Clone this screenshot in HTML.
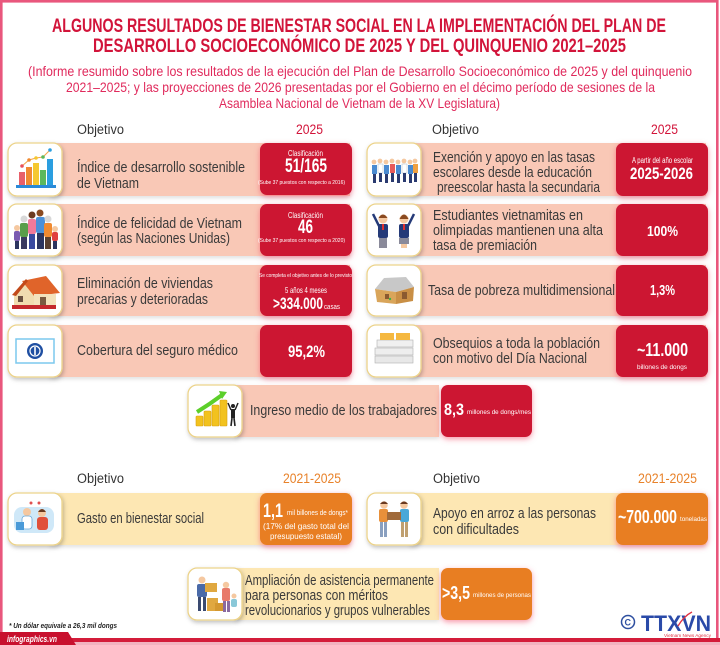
<!DOCTYPE html>
<html><head><meta charset="utf-8">
<style>
html,body{margin:0;padding:0;background:#fff;}
svg{display:block;}
text{font-family:"Liberation Sans",sans-serif;}
.t{font-size:15px;fill:#3a3a3a;}
.w{fill:#fff;}
.b{font-weight:bold;}
</style></head>
<body>
<svg width="720" height="645" viewBox="0 0 720 645" xmlns="http://www.w3.org/2000/svg">
<defs>
<filter id="glow" x="-20%" y="-30%" width="140%" height="160%">
<feDropShadow dx="0" dy="2" stdDeviation="3" flood-color="#f0405f" flood-opacity="0.55"/>
</filter>
<filter id="ish" x="-20%" y="-20%" width="140%" height="150%">
<feDropShadow dx="1" dy="2" stdDeviation="2" flood-color="#000" flood-opacity="0.25"/>
</filter>
<filter id="bsh" x="-5%" y="-20%" width="110%" height="150%">
<feDropShadow dx="0" dy="2" stdDeviation="2" flood-color="#000" flood-opacity="0.12"/>
</filter>
</defs>
<rect width="720" height="645" fill="#fff"/>
<!-- border -->
<rect x="1.3" y="1.3" width="716" height="640" fill="none" stroke="#e9577d" stroke-width="2.6"/>
<rect x="0" y="638" width="720" height="4" fill="#d41c3a"/>
<rect x="0" y="642" width="720" height="3" fill="#f2b3c0"/>
<polygon points="0,632 68,632 76,645 0,645" fill="#c8102e"/>
<text x="7" y="642" font-size="9" font-style="italic" font-weight="bold" fill="#fff" textLength="50" lengthAdjust="spacingAndGlyphs">infographics.vn</text>

<!-- title -->
<text x="52" y="32" font-size="19.5" font-weight="bold" fill="#d2143a" textLength="614" lengthAdjust="spacingAndGlyphs">ALGUNOS RESULTADOS DE BIENESTAR SOCIAL EN LA IMPLEMENTACIÓN DEL PLAN DE</text>
<text x="93" y="52" font-size="19.5" font-weight="bold" fill="#d2143a" textLength="533" lengthAdjust="spacingAndGlyphs">DESARROLLO SOCIOECONÓMICO DE 2025 Y DEL QUINQUENIO 2021–2025</text>
<text x="28" y="76" font-size="14" fill="#e02a5c" textLength="664" lengthAdjust="spacingAndGlyphs">(Informe resumido sobre los resultados de la ejecución del Plan de Desarrollo Socioeconómico de 2025 y del quinquenio</text>
<text x="66" y="92" font-size="14" fill="#e02a5c" textLength="589" lengthAdjust="spacingAndGlyphs">2021–2025; y las proyecciones de 2026 presentadas por el Gobierno en el décimo período de sesiones de la</text>
<text x="219" y="108" font-size="14" fill="#e02a5c" textLength="281" lengthAdjust="spacingAndGlyphs">Asamblea Nacional de Vietnam de la XV Legislatura)</text>

<!-- headers -->
<text x="77" y="134" font-size="13.5" fill="#333" textLength="47" lengthAdjust="spacingAndGlyphs">Objetivo</text>
<text x="296" y="134" font-size="13.5" fill="#d2143a" textLength="27" lengthAdjust="spacingAndGlyphs">2025</text>
<text x="432" y="134" font-size="13.5" fill="#333" textLength="47" lengthAdjust="spacingAndGlyphs">Objetivo</text>
<text x="651" y="134" font-size="13.5" fill="#d2143a" textLength="27" lengthAdjust="spacingAndGlyphs">2025</text>

<!-- bars left -->
<g filter="url(#bsh)">
<rect x="50" y="143" width="300" height="53" fill="#f9c8b6"/>
<rect x="50" y="204" width="300" height="52" fill="#f9c8b6"/>
<rect x="50" y="265" width="300" height="51" fill="#f9c8b6"/>
<rect x="50" y="325" width="300" height="52" fill="#f9c8b6"/>
<rect x="235" y="385" width="204" height="52" fill="#f9c8b6"/>
<rect x="410" y="143" width="296" height="53" fill="#f9c8b6"/>
<rect x="410" y="204" width="296" height="52" fill="#f9c8b6"/>
<rect x="410" y="265" width="296" height="51" fill="#f9c8b6"/>
<rect x="410" y="325" width="296" height="52" fill="#f9c8b6"/>
<rect x="50" y="493" width="300" height="52" fill="#fde7b3"/>
<rect x="410" y="493" width="296" height="52" fill="#fde7b3"/>
<rect x="235" y="568" width="204" height="52" fill="#fde7b3"/>
</g>

<!-- red boxes -->
<g filter="url(#glow)" fill="#cc1431">
<rect x="260" y="143" width="92" height="52" rx="7"/>
<rect x="260" y="204" width="92" height="52" rx="7"/>
<rect x="260" y="265" width="92" height="51" rx="7"/>
<rect x="260" y="325" width="92" height="52" rx="7"/>
<rect x="441" y="385" width="91" height="52" rx="7"/>
<rect x="616" y="143" width="92" height="53" rx="7"/>
<rect x="616" y="204" width="92" height="52" rx="7"/>
<rect x="616" y="265" width="92" height="51" rx="7"/>
<rect x="616" y="325" width="92" height="52" rx="7"/>
</g>
<g filter="url(#glow)" fill="#e87e22">
<rect x="260" y="493" width="92" height="52" rx="7"/>
<rect x="616" y="493" width="92" height="52" rx="7"/>
<rect x="441" y="568" width="91" height="52" rx="7"/>
</g>

<!-- icon boxes -->
<g filter="url(#ish)" fill="#fff" stroke="#ecd38a" stroke-width="1.3">
<rect x="8" y="143" width="54" height="53" rx="9"/>
<rect x="8" y="204" width="54" height="52" rx="9"/>
<rect x="8" y="265" width="54" height="51" rx="9"/>
<rect x="8" y="325" width="54" height="52" rx="9"/>
<rect x="188" y="385" width="54" height="52" rx="9"/>
<rect x="367" y="143" width="54" height="53" rx="9"/>
<rect x="367" y="204" width="54" height="52" rx="9"/>
<rect x="367" y="265" width="54" height="51" rx="9"/>
<rect x="367" y="325" width="54" height="52" rx="9"/>
<rect x="8" y="493" width="54" height="52" rx="9"/>
<rect x="367" y="493" width="54" height="52" rx="9"/>
<rect x="188" y="568" width="54" height="52" rx="9"/>
</g>

<!-- icon 1: bar chart -->
<polyline points="22,166 29,160 36,158 43,157 50,150" fill="none" stroke="#f3a548" stroke-width="1"/>
<circle cx="22" cy="166" r="1.8" fill="#e8505a"/><circle cx="29" cy="160" r="1.8" fill="#f08a30"/><circle cx="36" cy="158" r="1.8" fill="#f5c830"/><circle cx="43" cy="157" r="1.8" fill="#5cb85c"/><circle cx="50" cy="150" r="1.8" fill="#2a9ee0"/>
<rect x="19" y="172" width="6" height="13" fill="#e8606a"/>
<rect x="26" y="167" width="6" height="18" fill="#f08a30"/>
<rect x="33" y="163" width="6" height="22" fill="#f5c830"/>
<rect x="40" y="170" width="6" height="15" fill="#5cb85c"/>
<rect x="47" y="159" width="6" height="26" fill="#2a9ee0"/>
<rect x="16" y="185" width="40" height="3" fill="#2a8ad8"/>

<!-- icon 2: family -->
<g>
<circle cx="17" cy="228" r="3" fill="#f5c8a0"/><rect x="14" y="231" width="6" height="10" rx="2" fill="#7a5bb0"/><rect x="15" y="241" width="4" height="8" fill="#2c3560"/>
<circle cx="24" cy="219" r="3.5" fill="#d8d8d8"/><rect x="20" y="223" width="8" height="14" rx="2" fill="#5a9e4a"/><rect x="21" y="237" width="6" height="12" fill="#3a3a60"/>
<circle cx="32" cy="215" r="3.5" fill="#6b3a20"/><rect x="28" y="219" width="8" height="15" rx="2" fill="#f07a9a"/><rect x="29" y="234" width="6" height="15" fill="#3a4aa0"/>
<circle cx="40" cy="213" r="3.5" fill="#8a4a20"/><rect x="36" y="217" width="9" height="16" rx="2" fill="#4a90d8"/><rect x="37" y="233" width="7" height="16" fill="#2c3560"/>
<circle cx="48" cy="219" r="3.5" fill="#d8d8d8"/><rect x="44" y="223" width="8" height="14" rx="2" fill="#f08a30"/><rect x="45" y="237" width="6" height="12" fill="#5a4030"/>
<circle cx="55" cy="229" r="3" fill="#f5c8a0"/><rect x="52" y="232" width="6" height="9" rx="2" fill="#e04040"/><rect x="53" y="241" width="4" height="8" fill="#2c3560"/>
</g>

<!-- icon 3: house -->
<polygon points="14,294 26,280 34,290 34,305 14,305" fill="#f0dcb0"/>
<polygon points="22,281 46,276 60,293 34,296" fill="#e0642a"/>
<polygon points="12,295 26,279 28,281 16,296" fill="#c24a1a"/>
<rect x="34" y="294" width="22" height="11" fill="#f3e2bc"/>
<rect x="18" y="296" width="5" height="6" fill="#6a5040"/>
<rect x="40" y="297" width="6" height="8" fill="#7a5a40"/>
<rect x="12" y="305" width="44" height="4" fill="#c4282c"/>

<!-- icon 4: insurance -->
<rect x="16" y="339" width="38" height="24" fill="#fff" stroke="#7cc8ee" stroke-width="1.5"/>
<circle cx="35" cy="351" r="8" fill="#1f4fa2"/>
<circle cx="35" cy="351" r="5" fill="none" stroke="#fff" stroke-width="1.2"/>
<rect x="34.2" y="347" width="1.6" height="8" fill="#fff"/>

<!-- center icon: coins -->
<path d="M197,412 Q210,404 222,395" fill="none" stroke="#5ccf2a" stroke-width="4"/>
<polygon points="219,391 227,392 222,399" fill="#5ccf2a"/>
<g fill="#f2c21e" stroke="#d8a010" stroke-width="0.6">
<rect x="196" y="416" width="7" height="10" rx="1"/>
<rect x="204" y="411" width="7" height="15" rx="1"/>
<rect x="212" y="405" width="7" height="21" rx="1"/>
<rect x="220" y="400" width="7" height="26" rx="1"/>
</g>
<circle cx="233" cy="406" r="2" fill="#222"/>
<rect x="231" y="409" width="4" height="9" fill="#222"/>
<line x1="231" y1="410" x2="228" y2="403" stroke="#222" stroke-width="1.5"/>
<line x1="235" y1="410" x2="238" y2="403" stroke="#222" stroke-width="1.5"/>
<line x1="232" y1="418" x2="231" y2="426" stroke="#222" stroke-width="1.6"/>
<line x1="234" y1="418" x2="235" y2="426" stroke="#222" stroke-width="1.6"/>

<!-- right icon 1: students -->
<g>
<g fill="#f5c8a0"><circle cx="374" cy="162" r="2.4"/><circle cx="380" cy="161" r="2.4"/><circle cx="386" cy="162" r="2.4"/><circle cx="392" cy="161" r="2.4"/><circle cx="398" cy="162" r="2.4"/><circle cx="404" cy="161" r="2.4"/><circle cx="410" cy="162" r="2.4"/><circle cx="415" cy="161" r="2.4"/></g>
<g fill="#4a8ad0"><rect x="372" y="165" width="5" height="9"/><rect x="378" y="164" width="5" height="9" fill="#fff" stroke="#9ab" stroke-width="0.4"/><rect x="384" y="165" width="5" height="9"/><rect x="390" y="164" width="5" height="9" fill="#e85a5a"/><rect x="396" y="165" width="5" height="9"/><rect x="402" y="164" width="5" height="9" fill="#fff" stroke="#9ab" stroke-width="0.4"/><rect x="408" y="165" width="5" height="9"/><rect x="413" y="164" width="5" height="9" fill="#f0a040"/></g>
<g fill="#2a3a70"><rect x="373" y="174" width="3" height="9"/><rect x="379" y="173" width="3" height="9"/><rect x="385" y="174" width="3" height="9"/><rect x="391" y="173" width="3" height="9"/><rect x="397" y="174" width="3" height="9"/><rect x="403" y="173" width="3" height="9"/><rect x="409" y="174" width="3" height="9"/><rect x="414" y="173" width="3" height="9"/></g>
</g>

<!-- right icon 2: two students -->
<g>
<circle cx="383" cy="219" r="4.5" fill="#f5c8a0"/><path d="M378.5,218 Q383,211 387.5,218" fill="#8a4a20"/>
<circle cx="404" cy="219" r="4.5" fill="#f5c8a0"/><path d="M399.5,219 Q404,210 408.5,219" fill="#8a4a20"/>
<line x1="379" y1="226" x2="373" y2="214" stroke="#253a78" stroke-width="2.5"/>
<line x1="408" y1="226" x2="414" y2="214" stroke="#253a78" stroke-width="2.5"/>
<rect x="378" y="224" width="10" height="14" rx="2" fill="#253a78"/>
<rect x="399" y="224" width="10" height="14" rx="2" fill="#253a78"/>
<rect x="382" y="224" width="2" height="6" fill="#e03030"/>
<rect x="403" y="224" width="2" height="6" fill="#e03030"/>
<rect x="379" y="238" width="8" height="10" fill="#8a8a9a"/>
<rect x="399" y="238" width="10" height="6" fill="#8a8a9a"/>
<rect x="401" y="244" width="6" height="4" fill="#f5c8a0"/>
</g>

<!-- right icon 3: house -->
<polygon points="375,289 384,278 406,277 414,287 396,292" fill="#c8c8c8"/>
<polygon points="375,289 396,292 396,304 377,302" fill="#d9a55a"/>
<polygon points="396,292 414,287 413,301 396,304" fill="#c98f45"/>
<rect x="385" y="294" width="4" height="5" fill="#8a5a30"/>
<rect x="402" y="292" width="5" height="7" fill="#8a5a30"/>
<circle cx="390" cy="299" r="1.2" fill="#3cb043"/>

<!-- right icon 4: money stacks -->
<g>
<rect x="375" y="356" width="38" height="7" fill="#e8e8e8" stroke="#b0b0b0" stroke-width="0.6"/>
<rect x="375" y="348" width="38" height="7" fill="#eeeeee" stroke="#b0b0b0" stroke-width="0.6"/>
<rect x="377" y="340" width="36" height="7" fill="#f0f0f0" stroke="#b0b0b0" stroke-width="0.6"/>
<rect x="380" y="333" width="14" height="7" fill="#f5b840"/>
<rect x="396" y="333" width="14" height="7" fill="#f5b840"/>
</g>

<!-- row5 left icon: consultation -->
<g>
<rect x="14" y="507" width="40" height="26" rx="8" fill="#cfe8f8"/>
<circle cx="27" cy="512" r="4" fill="#f5c8a0"/><rect x="22" y="516" width="10" height="13" rx="3" fill="#fff" stroke="#6aa8d8" stroke-width="0.8"/>
<circle cx="42" cy="513" r="4" fill="#f5c8a0"/><path d="M38,512 Q42,506 46,512" fill="#6b3a20"/>
<rect x="37" y="517" width="11" height="13" rx="3" fill="#e0503a"/>
<rect x="16" y="522" width="8" height="8" fill="#4a9ad8"/>
<circle cx="31" cy="503" r="1.5" fill="#e05050"/><circle cx="39" cy="503" r="1.5" fill="#e05050"/>
</g>

<!-- row5 right icon: rice box exchange -->
<g>
<circle cx="384" cy="505" r="3.8" fill="#f5c8a0"/><path d="M380,504 Q384,499 388,504" fill="#6b3a20"/>
<circle cx="404" cy="505" r="3.8" fill="#f5c8a0"/><path d="M400,504 Q404,499 408,504" fill="#6b3a20"/>
<rect x="379" y="509" width="9" height="13" rx="2" fill="#e8903a"/>
<rect x="400" y="509" width="9" height="13" rx="2" fill="#4aa8d8"/>
<rect x="387" y="512" width="14" height="8" fill="#a06a3a"/>
<rect x="380" y="522" width="3" height="15" fill="#8aa0c0"/><rect x="384" y="522" width="3" height="15" fill="#8aa0c0"/>
<rect x="401" y="522" width="3" height="15" fill="#c0a070"/><rect x="405" y="522" width="3" height="15" fill="#c0a070"/>
</g>

<!-- row6 icon: boxes -->
<g>
<circle cx="202" cy="580" r="3.5" fill="#f5c8a0"/>
<rect x="197" y="584" width="10" height="13" rx="2" fill="#4a6aa8"/>
<rect x="205" y="583" width="12" height="9" fill="#e0a840"/>
<rect x="198" y="597" width="3" height="14" fill="#3a4a70"/><rect x="203" y="597" width="3" height="14" fill="#3a4a70"/>
<rect x="207" y="598" width="11" height="13" fill="#e0a840"/>
<rect x="215" y="603" width="9" height="8" fill="#d49830"/>
<circle cx="226" cy="585" r="3.2" fill="#f5c8a0"/>
<rect x="222" y="588" width="8" height="13" rx="2" fill="#e87a6a"/>
<rect x="223" y="601" width="3" height="11" fill="#8a6aa0"/><rect x="227" y="601" width="3" height="11" fill="#8a6aa0"/>
<circle cx="234" cy="596" r="2.5" fill="#f5c8a0"/>
<rect x="231" y="599" width="6" height="8" rx="2" fill="#8ac8d8"/>
</g>

<!-- left texts -->
<text class="t" x="77" y="172" textLength="168" lengthAdjust="spacingAndGlyphs">Índice de desarrollo sostenible</text>
<text class="t" x="77" y="188" textLength="62" lengthAdjust="spacingAndGlyphs">de Vietnam</text>
<text class="t" x="77" y="228" textLength="165" lengthAdjust="spacingAndGlyphs">Índice de felicidad de Vietnam</text>
<text class="t" x="77" y="243" textLength="153" lengthAdjust="spacingAndGlyphs">(según las Naciones Unidas)</text>
<text class="t" x="77" y="288" textLength="136" lengthAdjust="spacingAndGlyphs">Eliminación de viviendas</text>
<text class="t" x="77" y="304" textLength="131" lengthAdjust="spacingAndGlyphs">precarias y deterioradas</text>
<text class="t" x="77" y="355" textLength="161" lengthAdjust="spacingAndGlyphs">Cobertura del seguro médico</text>
<text class="t" x="250" y="415" textLength="187" lengthAdjust="spacingAndGlyphs">Ingreso medio de los trabajadores</text>

<!-- right texts -->
<text class="t" x="433" y="162" textLength="162" lengthAdjust="spacingAndGlyphs">Exención y apoyo en las tasas</text>
<text class="t" x="433" y="177" textLength="159" lengthAdjust="spacingAndGlyphs">escolares desde la educación</text>
<text class="t" x="437" y="192" textLength="163" lengthAdjust="spacingAndGlyphs">preescolar hasta la secundaria</text>
<text class="t" x="433" y="220" textLength="150" lengthAdjust="spacingAndGlyphs">Estudiantes vietnamitas en</text>
<text class="t" x="433" y="235" textLength="170" lengthAdjust="spacingAndGlyphs">olimpiadas mantienen una alta</text>
<text class="t" x="433" y="250" textLength="104" lengthAdjust="spacingAndGlyphs">tasa de premiación</text>
<text class="t" x="428" y="295" textLength="187" lengthAdjust="spacingAndGlyphs">Tasa de pobreza multidimensional</text>
<text class="t" x="433" y="348" textLength="167" lengthAdjust="spacingAndGlyphs">Obsequios a toda la población</text>
<text class="t" x="433" y="363" textLength="154" lengthAdjust="spacingAndGlyphs">con motivo del Día Nacional</text>

<!-- red box contents -->
<text class="w" x="288" y="156" font-size="8.5" textLength="35" lengthAdjust="spacingAndGlyphs">Clasificación</text>
<text class="w b" x="285" y="172" font-size="19" textLength="42" lengthAdjust="spacingAndGlyphs">51/165</text>
<text class="w" x="258" y="184" font-size="5.5" textLength="87" lengthAdjust="spacingAndGlyphs">(Sube 37 puestos con respecto a 2016)</text>
<text class="w" x="288" y="218" font-size="8.5" textLength="35" lengthAdjust="spacingAndGlyphs">Clasificación</text>
<text class="w b" x="298" y="233" font-size="19" textLength="15" lengthAdjust="spacingAndGlyphs">46</text>
<text class="w" x="258" y="242" font-size="5.5" textLength="87" lengthAdjust="spacingAndGlyphs">(Sube 37 puestos con respecto a 2020)</text>
<text class="w" x="259" y="277" font-size="5.5" textLength="93" lengthAdjust="spacingAndGlyphs">Se completa el objetivo antes de lo previsto</text>
<text class="w" x="285" y="293" font-size="8.5" textLength="42" lengthAdjust="spacingAndGlyphs">5 años 4 meses</text>
<text class="w b" x="273" y="309" font-size="17" textLength="50" lengthAdjust="spacingAndGlyphs">&gt;334.000</text>
<text class="w" x="324" y="309" font-size="7" textLength="16" lengthAdjust="spacingAndGlyphs">casas</text>
<text class="w b" x="288" y="357" font-size="17" textLength="37" lengthAdjust="spacingAndGlyphs">95,2%</text>
<text class="w b" x="444" y="415" font-size="17" textLength="20" lengthAdjust="spacingAndGlyphs">8,3</text>
<text class="w" x="467" y="414" font-size="6.5" textLength="64" lengthAdjust="spacingAndGlyphs">millones de dongs/mes</text>

<text class="w" x="632" y="163" font-size="8" textLength="61" lengthAdjust="spacingAndGlyphs">A partir del año escolar</text>
<text class="w b" x="630" y="179" font-size="17" textLength="63" lengthAdjust="spacingAndGlyphs">2025-2026</text>
<text class="w b" x="647" y="236" font-size="15" textLength="31" lengthAdjust="spacingAndGlyphs">100%</text>
<text class="w b" x="650" y="295" font-size="15" textLength="25" lengthAdjust="spacingAndGlyphs">1,3%</text>
<text class="w b" x="637" y="356" font-size="18" textLength="51" lengthAdjust="spacingAndGlyphs">~11.000</text>
<text class="w" x="637" y="369" font-size="6.5" textLength="50" lengthAdjust="spacingAndGlyphs">billones de  dongs</text>

<!-- bottom section -->
<text x="77" y="483" font-size="13.5" fill="#333" textLength="47" lengthAdjust="spacingAndGlyphs">Objetivo</text>
<text x="283" y="483" font-size="13.5" fill="#e8822a" textLength="58" lengthAdjust="spacingAndGlyphs">2021-2025</text>
<text x="433" y="483" font-size="13.5" fill="#333" textLength="47" lengthAdjust="spacingAndGlyphs">Objetivo</text>
<text x="638" y="483" font-size="13.5" fill="#e8822a" textLength="59" lengthAdjust="spacingAndGlyphs">2021-2025</text>

<text class="t" x="77" y="523" textLength="127" lengthAdjust="spacingAndGlyphs">Gasto en bienestar social</text>
<text class="t" x="433" y="518" textLength="163" lengthAdjust="spacingAndGlyphs">Apoyo en arroz a las personas</text>
<text class="t" x="433" y="534" textLength="86" lengthAdjust="spacingAndGlyphs">con dificultades</text>
<text class="t" x="245" y="585" textLength="189" lengthAdjust="spacingAndGlyphs">Ampliación de asistencia permanente</text>
<text class="t" x="245" y="600" textLength="143" lengthAdjust="spacingAndGlyphs">para personas con  méritos</text>
<text class="t" x="245" y="615" textLength="185" lengthAdjust="spacingAndGlyphs">revolucionarios y grupos vulnerables</text>

<text class="w b" x="263" y="517" font-size="19" textLength="20" lengthAdjust="spacingAndGlyphs">1,1</text>
<text class="w" x="287" y="515" font-size="7.5" textLength="61" lengthAdjust="spacingAndGlyphs">mil billones de dongs*</text>
<text class="w" x="263" y="529" font-size="8.5" textLength="86" lengthAdjust="spacingAndGlyphs">(17% del gasto total del</text>
<text class="w" x="270" y="539" font-size="8.5" textLength="72" lengthAdjust="spacingAndGlyphs">presupuesto estatal)</text>
<text class="w b" x="618" y="523" font-size="18" textLength="59" lengthAdjust="spacingAndGlyphs">~700.000</text>
<text class="w" x="680" y="521" font-size="6" textLength="27" lengthAdjust="spacingAndGlyphs">toneladas</text>
<text class="w b" x="442" y="599" font-size="18" textLength="28" lengthAdjust="spacingAndGlyphs">&gt;3,5</text>
<text class="w" x="473" y="597" font-size="6" textLength="58" lengthAdjust="spacingAndGlyphs">millones de personas</text>

<!-- footnote -->
<text x="9" y="628" font-size="7.5" font-style="italic" font-weight="bold" fill="#222" textLength="108" lengthAdjust="spacingAndGlyphs">* Un dólar equivale a 26,3 mil dongs</text>

<!-- TTXVN logo -->
<circle cx="628" cy="622" r="6.5" fill="none" stroke="#2e4fa0" stroke-width="1.5"/>
<text x="624.5" y="625.5" font-size="9" font-weight="bold" fill="#2e4fa0">C</text>
<text x="641" y="631" font-size="22" font-weight="bold" fill="#2a4aa8" textLength="70" lengthAdjust="spacingAndGlyphs">TTXVN</text>
<path d="M678,626 Q684,616 692,612" fill="none" stroke="#e03040" stroke-width="1.3"/>
<text x="664" y="637" font-size="4.5" fill="#e03040" textLength="47" lengthAdjust="spacingAndGlyphs">Vietnam News Agency</text>
</svg>
</body></html>
